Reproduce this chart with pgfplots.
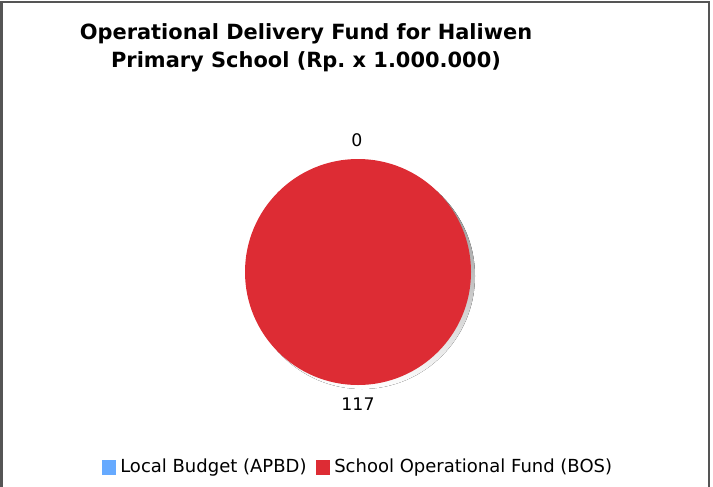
\documentclass[border=0pt]{standalone}
\usepackage{pgfplots}
\pgfplotsset{compat=1.18}
\usepackage{pgfplotstable}
\usetikzlibrary{calc}
\usepackage{fontspec}
\setmainfont{DejaVu Sans}
\frenchspacing
\definecolor{apbd}{HTML}{66AAFF}
\definecolor{bos}{HTML}{DD2C34}
\definecolor{shade}{HTML}{7A7A7A}
\definecolor{frame}{HTML}{555555}

\pgfplotstableread{
label value
APBD 0
BOS 117
}\piedata

\begin{document}
\begin{tikzpicture}[x=0.75pt,y=0.75pt]
\pgfplotstablegetelem{0}{value}\of\piedata \let\va\pgfplotsretval
\pgfplotstablegetelem{1}{value}\of\piedata \let\vb\pgfplotsretval
\pgfmathsetmacro{\tot}{\va+\vb}
\pgfmathsetmacro{\aA}{360*(\va/\tot)}
\pgfmathsetmacro{\aB}{360*(\vb/\tot)}
\begin{axis}[
  width=534.75pt, height=364.5pt, scale only axis,
  xmin=0, xmax=713, ymin=0, ymax=486, y dir=reverse,
  hide axis, clip=false,
  /pgf/number format/assume math mode=true,
]
% frame
\draw[frame, line width=1.5pt] (axis cs:1.5,490) -- (axis cs:1.5,1.5) -- (axis cs:709,1.5) -- (axis cs:709,490);
% title
\node[font=\bfseries\fontsize{15.7}{21}\selectfont, align=center, anchor=center] at (axis cs:306,47.5)
  {Operational Delivery Fund for Haliwen\\Primary School (Rp. x 1.000.000)};
% pie shadow
\fill[shade] (axis cs:362,276) circle[radius=84.75pt];
% slices: start at top (90 deg), go clockwise
\pgfmathsetmacro{\sA}{90}
\pgfmathsetmacro{\eA}{90-\aA}
\pgfmathsetmacro{\eB}{\eA-\aB}
\ifdim\aA pt>0pt
\fill[apbd] (axis cs:358,272) -- ++(\sA:84.75pt) arc[start angle=\sA, end angle=\eA, radius=84.75pt] -- cycle;
\fi
\ifdim\aB pt>359.9pt
\fill[bos] (axis cs:358,272) circle[radius=84.75pt];
\else
\fill[bos] (axis cs:358,272) -- ++(\eA:84.75pt) arc[start angle=\eA, end angle=\eB, radius=84.75pt] -- cycle;
\fi
% value labels at mid-angles
\pgfmathsetmacro{\mA}{90-\aA/2}
\pgfmathsetmacro{\mB}{\eA-\aB/2}
\node[font=\fontsize{13}{15}\selectfont] at ($(axis cs:357,272)+(\mA:98.5pt)$) {\pgfmathprintnumber{\va}};
\node[font=\fontsize{13}{15}\selectfont] at ($(axis cs:358,272)+(\mB:99.5pt)$) {\pgfmathprintnumber{\vb}};
% legend
\fill[apbd] (axis cs:102,460) rectangle (axis cs:116,475);
\node[anchor=west, font=\fontsize{13.5}{16}\selectfont, inner sep=0pt] at (axis cs:120,468) {Local Budget (APBD)};
\fill[bos] (axis cs:316,460) rectangle (axis cs:330,475);
\node[anchor=west, font=\fontsize{13.5}{16}\selectfont, inner sep=0pt] at (axis cs:334,468) {School Operational Fund (BOS)};
\end{axis}
\pgfresetboundingbox
\useasboundingbox (0,0) rectangle (713,486);
\end{tikzpicture}
\end{document}
